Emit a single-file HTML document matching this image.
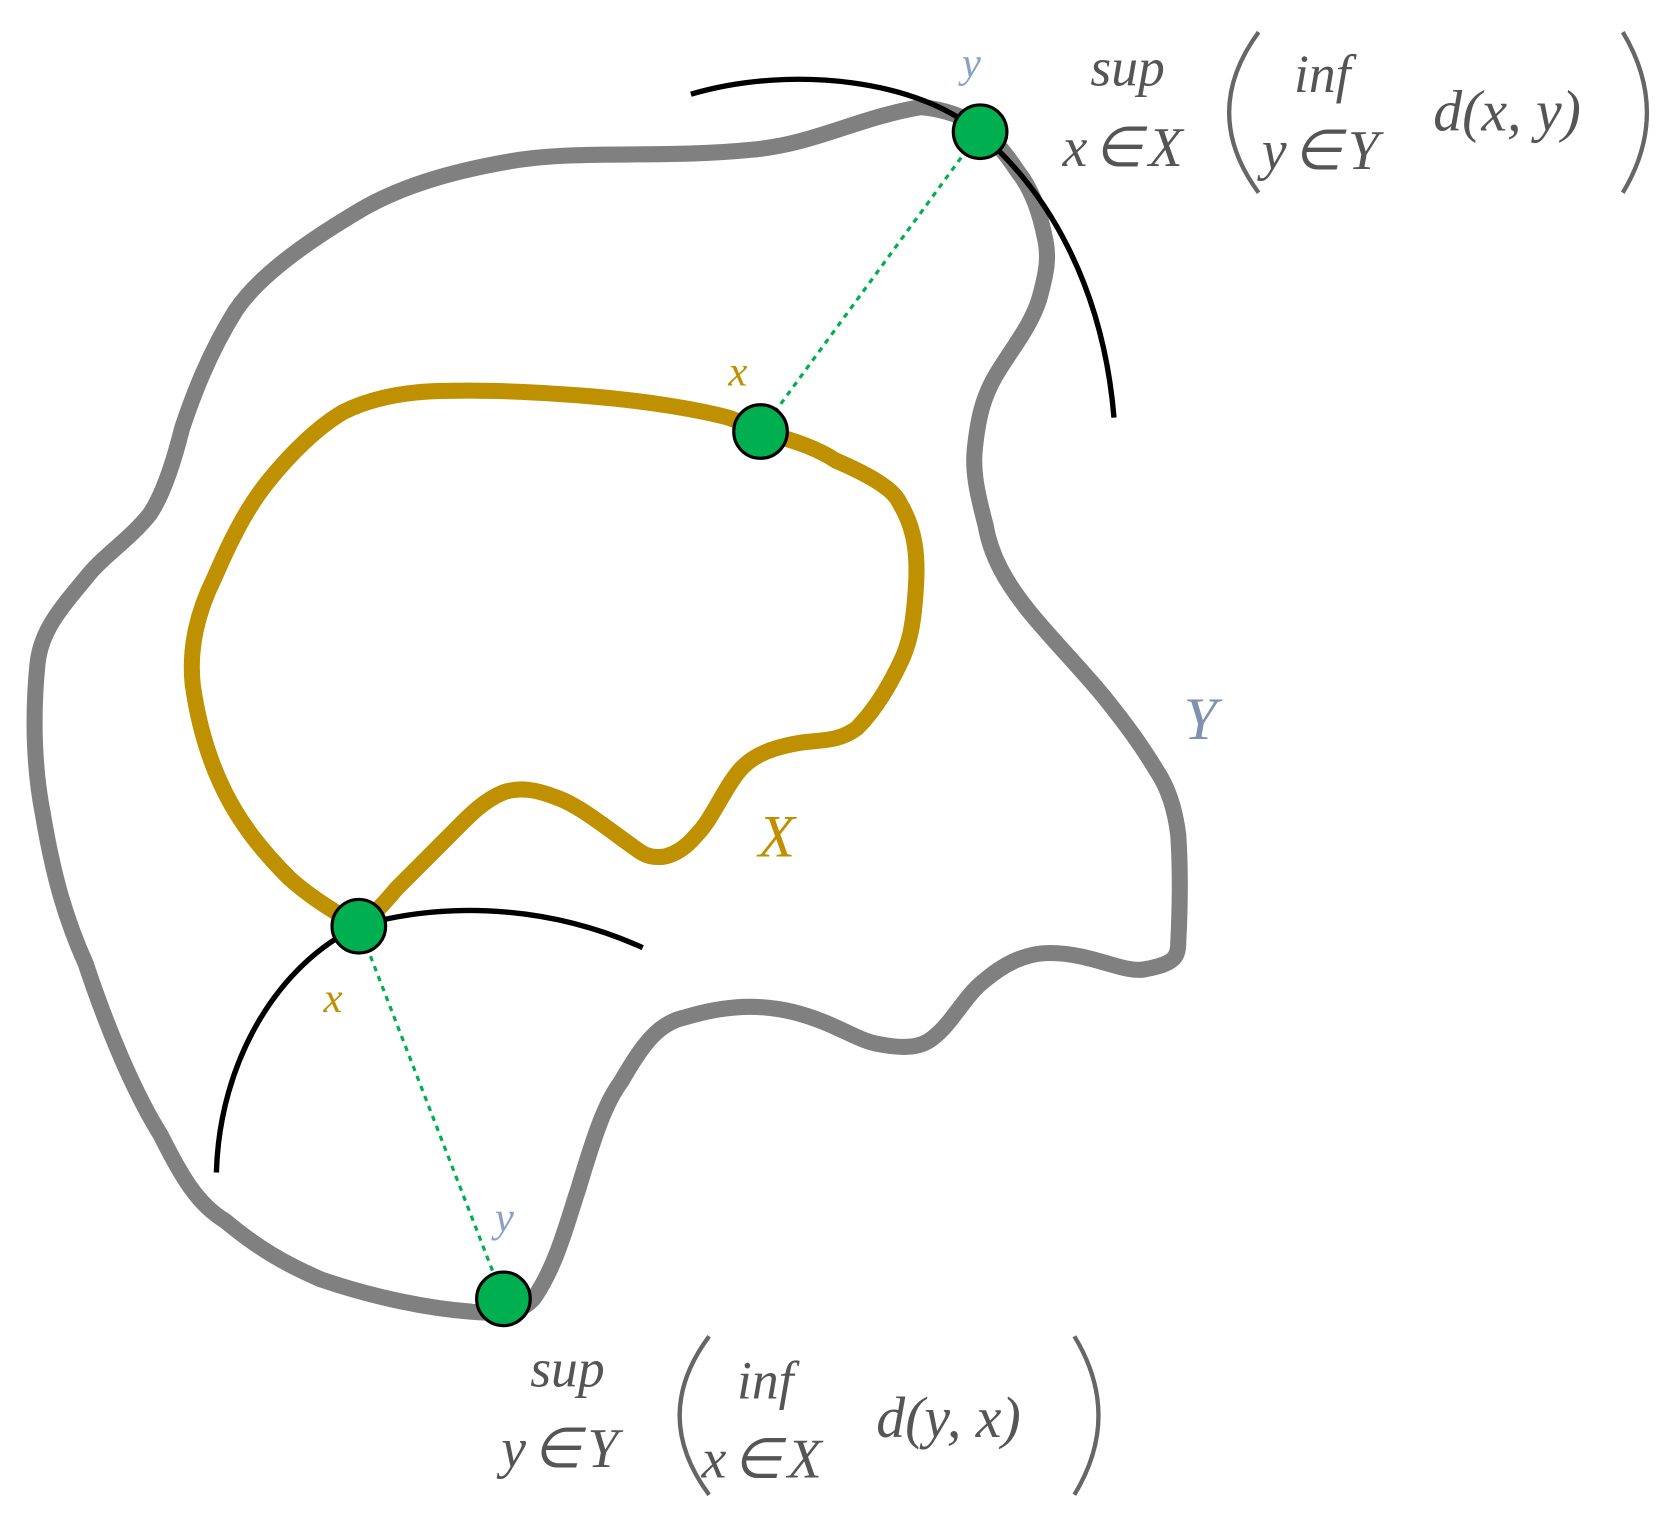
<!DOCTYPE html>
<html><head><meta charset="utf-8"><style>
html,body{margin:0;padding:0;background:#fff;}
svg{display:block;}
text{font-family:"Liberation Serif",serif;font-style:italic;}
</style></head><body>
<svg width="1671" height="1513" viewBox="0 0 1560 1413" preserveAspectRatio="none" xmlns="http://www.w3.org/2000/svg">
<path d="M860,100 C800,110 760,135 700,140 C620,148 540,140 480,150 C420,160 370,175 330,200 C280,230 240,260 220,290 C195,330 180,370 170,400 C160,440 150,465 140,480 C120,505 95,520 80,540 C55,570 38,590 35,620 C30,670 32,720 40,760 C50,820 62,860 80,900 C100,960 125,1020 150,1060 C170,1100 185,1125 210,1140 C240,1165 265,1180 300,1195 C350,1212 400,1222 440,1225 C470,1228 490,1225 500,1210 C520,1180 530,1140 540,1110 C555,1060 565,1030 580,1010 C600,975 615,955 640,950 C680,938 710,938 740,945 C780,955 800,972 820,975 C845,980 860,978 870,970 C890,955 900,930 920,915 C940,898 960,890 980,890 C1020,890 1050,910 1070,905 C1095,900 1100,895 1100,880 C1102,840 1102,810 1100,780 C1097,755 1090,735 1080,720 C1065,695 1050,675 1030,650 C1005,620 980,595 960,570 C940,545 925,520 920,490 C912,460 908,440 910,420 C913,390 918,370 930,350 C945,325 962,305 970,280 C977,255 980,240 975,220 C970,195 962,175 950,160 C940,145 930,132 915,120 C900,108 880,102 860,100 Z" fill="none" stroke="#808080" stroke-width="15"/>
<path d="M710,403 C745,412 765,420 780,430 C815,445 835,458 840,470 C855,495 857,520 855,550 C853,580 850,600 840,620 C828,645 815,665 800,680 C780,695 760,690 740,695 C715,700 700,708 690,720 C675,738 665,765 650,780 C640,792 630,798 620,800 C605,802 598,796 590,790 C565,772 540,752 520,745 C500,737 485,735 470,740 C450,748 435,765 420,780 C400,800 385,815 370,830 C355,848 345,858 335,865 C310,850 290,838 270,820 C245,795 225,770 210,740 C195,710 185,675 180,640 C176,605 185,570 200,540 C215,505 230,475 250,450 C270,425 295,400 320,385 C350,370 385,365 420,365 C465,364 510,367 550,370 C600,374 650,382 680,390 C695,395 702,400 710,403 Z" fill="none" stroke="#bf9000" stroke-width="15"/>
<path d="M645,88 C740,60 860,75 915,125 C980,180 1030,270 1040,390" fill="none" stroke="#000" stroke-width="5"/>
<path d="M600,885 C500,840 400,845 335,865 C260,900 205,990 202,1095" fill="none" stroke="#000" stroke-width="5"/>
<line x1="915" y1="123" x2="710" y2="403" stroke="#00b050" stroke-width="3" stroke-dasharray="5 5"/>
<line x1="335" y1="865" x2="470" y2="1213" stroke="#00b050" stroke-width="3" stroke-dasharray="5 5"/>
<g fill="#00b050" stroke="#000" stroke-width="3">
<circle cx="915" cy="123" r="25"/><circle cx="710" cy="403" r="25"/>
<circle cx="335" cy="865" r="25"/><circle cx="470" cy="1213" r="25"/>
</g>
<g font-size="40">
<text x="898" y="72" fill="#8aa0c8">y</text>
<text x="680" y="360" fill="#c09000">x</text>
<text x="302" y="945" fill="#c09000">x</text>
<text x="462" y="1150" fill="#8aa0c8">y</text>
</g>
<text x="708" y="800" font-size="56" fill="#c09000">X</text>
<text x="1105" y="690" font-size="56" fill="#8090b0">Y</text>
<g fill="#555">
<text x="1018" y="80" font-size="50">sup</text>
<text x="992" y="155" font-size="52" letter-spacing="6">x∈X</text>
<text x="1208" y="86" font-size="50">inf</text>
<text x="1178" y="158" font-size="52" letter-spacing="6">y∈Y</text>
<text x="1338" y="122" font-size="54">d(x, y)</text>
<text x="495" y="1295" font-size="50">sup</text>
<text x="468" y="1370" font-size="52" letter-spacing="6">y∈Y</text>
<text x="688" y="1306" font-size="50">inf</text>
<text x="655" y="1380" font-size="52" letter-spacing="6">x∈X</text>
<text x="818" y="1342" font-size="54">d(y, x)</text>
</g>
<g fill="none" stroke="#666" stroke-width="4">
<path d="M1175,30 Q1120,105 1175,180"/>
<path d="M1515,30 Q1560,105 1515,180"/>
<path d="M662,1248 Q607,1322 662,1396"/>
<path d="M1003,1248 Q1048,1322 1003,1396"/>
</g>
</svg>
</body></html>
